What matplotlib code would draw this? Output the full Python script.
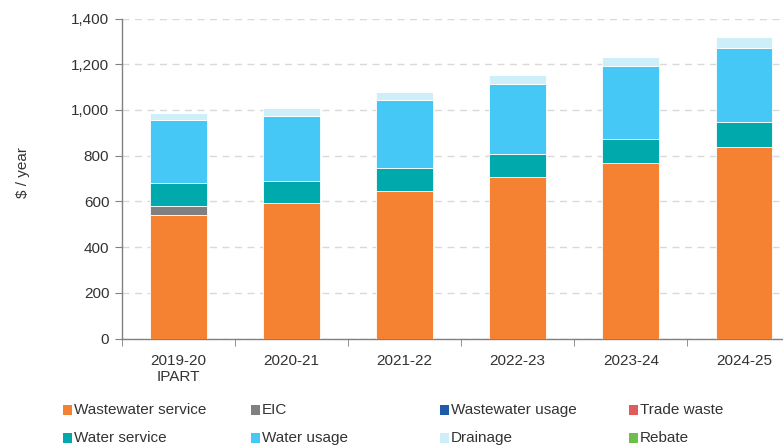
import matplotlib
matplotlib.use("Agg")
import matplotlib.pyplot as plt
from matplotlib.patches import Rectangle
import numpy as np

categories = ["2019-20\nIPART", "2020-21", "2021-22", "2022-23", "2023-24", "2024-25"]
wastewater_service = [540, 591, 645, 705, 768, 838]
eic = [41, 0, 0, 0, 0, 0]
wastewater_usage = [0, 0, 0, 0, 0, 0]
trade_waste = [0, 0, 0, 0, 0, 0]
water_service = [101, 99, 102, 102, 106, 109]
water_usage = [274, 285, 295, 306, 317, 325]
drainage = [29, 33, 36, 40, 42, 46]
rebate = [0, 0, 0, 0, 0, 0]
y_ticks = [0, 200, 400, 600, 800, 1000, 1200, 1400]

series = [
    ("Wastewater service", wastewater_service, "#F58233"),
    ("EIC", eic, "#808080"),
    ("Wastewater usage", wastewater_usage, "#1F5BA8"),
    ("Trade waste", trade_waste, "#E05B5B"),
    ("Water service", water_service, "#00A9AC"),
    ("Water usage", water_usage, "#45C8F5"),
    ("Drainage", drainage, "#CDEFFA"),
    ("Rebate", rebate, "#6CC04A"),
]

plt.rcParams['font.family'] = ['Liberation Sans', 'DejaVu Sans']
fig = plt.figure(figsize=(7.83, 4.47), dpi=100)
ax_left = 121.8
ax_w = 783 - ax_left
ax = fig.add_axes([ax_left/783, 1-338.5/447, ax_w/783, (338.5-18.5)/447])

x = np.arange(len(categories))
bottom = np.zeros(len(categories))
for name, vals, col in series:
    v = np.array(vals, dtype=float)
    ax.bar(x, v, 0.5, bottom=bottom, color=col, edgecolor="white", linewidth=0.6, zorder=3)
    bottom += v

ax.set_yticks(y_ticks)
ax.set_yticklabels([f"{t:,}" for t in y_ticks], fontsize=11, color="#333333")
ax.set_xticks(x)
ax.set_xticklabels(categories, fontsize=11, color="#333333")
ax.set_xticks(np.arange(-0.5, 5.6, 1), minor=True)
ax.set_xlim(-0.5, -0.5 + ax_w/113.1)
ax.set_ylim(0, 1400)
ax.tick_params(axis='x', which='major', length=0, pad=11)
ax.tick_params(axis='x', which='minor', length=5, color="#808080", direction='out')
ax.tick_params(axis='y', length=5, color="#808080", direction='out', pad=4)
for s in ["top", "right"]:
    ax.spines[s].set_visible(False)
for s in ["left", "bottom"]:
    ax.spines[s].set_color("#808080")
    ax.spines[s].set_linewidth(1.0)
ax.grid(axis='y', linestyle=(0, (5, 4)), color="#d9d9d9", linewidth=1, zorder=0)
ax.set_axisbelow(True)
ax.set_ylabel("\\$ / year", fontsize=11, color="#333333")
ax.yaxis.set_label_coords((30 - ax_left)/ax_w, (338.5-172.5)/320)

# manual legend (row-wise layout)
cols_x = [63, 251, 440, 629]
rows_y = [410, 438]
for i, (name, vals, col) in enumerate(series):
    r, c = divmod(i, 4)
    px, py = cols_x[c], rows_y[r]
    fig.patches.append(Rectangle((px/783, 1-(py+5)/447), 9/783, 10/447,
                                 transform=fig.transFigure, facecolor=col, edgecolor="none"))
    fig.text((px+11)/783, 1-py/447, name, fontsize=11, color="#333333", va='center', ha='left')

fig.savefig("out.png", dpi=100)
